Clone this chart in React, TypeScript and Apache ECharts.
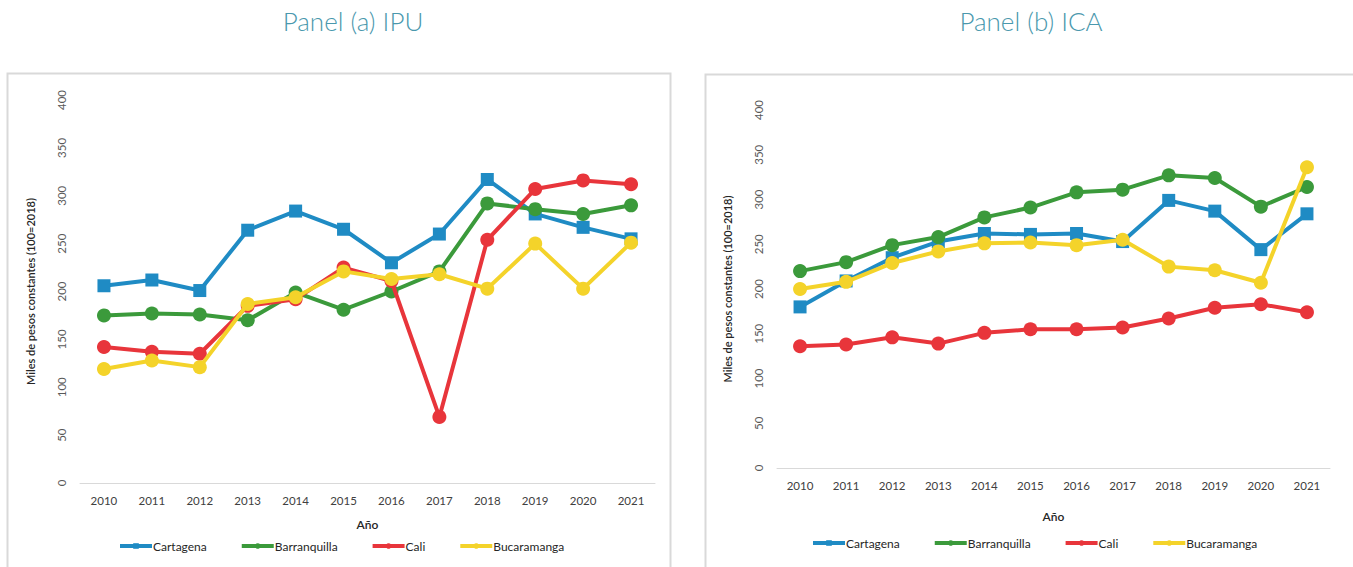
import React, { useEffect, useRef } from "react";
import * as echarts from "echarts";

const years = ["2010", "2011", "2012", "2013", "2014", "2015", "2016", "2017", "2018", "2019", "2020", "2021"];
const seriesNames = ["Cartagena", "Barranquilla", "Cali", "Bucaramanga"];
const colors = ["#1f8bc4", "#3b9a3b", "#e8353b", "#f4d32a"];
const symbols = ["rect", "circle", "circle", "circle"];

// Panel (a) IPU
const ipuCartagena = [206, 212, 201, 264, 284, 265, 230, 260, 317, 281, 267, 255];
const ipuBarranquilla = [175, 177, 176, 170, 199, 181, 200, 221, 292, 286, 281, 290];
const ipuCali = [142, 137, 135, 185, 192, 225, 211, 69, 254, 307, 316, 312];
const ipuBucaramanga = [119, 128, 121, 187, 194, 221, 213, 218, 203, 250, 203, 251];

// Panel (b) ICA
const icaCartagena = [180, 209, 235, 253, 262, 261, 262, 253, 299, 287, 244, 284];
const icaBarranquilla = [220, 230, 249, 258, 280, 291, 308, 311, 327, 324, 292, 314];
const icaCali = [136, 138, 146, 139, 151, 155, 155, 157, 167, 179, 183, 174];
const icaBucaramanga = [200, 208, 229, 242, 251, 252, 249, 255, 225, 221, 207, 336];

const yTicksMax = 400;
const yInterval = 50;

const FONT = "Lato, 'Open Sans', sans-serif";

export default function App() {
  const ref = useRef<HTMLDivElement>(null);
  useEffect(() => {
    if (!ref.current) return;
    const chart = echarts.init(ref.current, undefined, { renderer: "svg" });
    const panels = [
      [ipuCartagena, ipuBarranquilla, ipuCali, ipuBucaramanga],
      [icaCartagena, icaBarranquilla, icaCali, icaBucaramanga],
    ];
    const grids = [
      { left: 80, top: 100, width: 575, height: 383 },
      { left: 777, top: 110, width: 553, height: 358 },
    ];
    const series: any[] = [];
    panels.forEach((panel, pi) => {
      panel.forEach((data, si) => {
        series.push({
          name: seriesNames[si],
          type: "line",
          xAxisIndex: pi,
          yAxisIndex: pi,
          data,
          symbol: symbols[si],
          symbolSize: si === 0 ? 13 : 14,
          lineStyle: { width: 4, color: colors[si] },
          itemStyle: { color: colors[si] },
          z: 2 + si,
        });
      });
    });
    const xAxis = grids.map((_, i) => ({
      type: "category",
      gridIndex: i,
      data: years,
      boundaryGap: true,
      name: "Año",
      nameLocation: "middle",
      nameGap: i === 0 ? 35 : 42,
      nameTextStyle: { fontFamily: FONT, fontSize: 12, color: "#262626", fontWeight: 600 },
      axisLine: { lineStyle: { color: "#d9d9d9", width: 1 } },
      axisTick: { show: false },
      axisLabel: { fontFamily: FONT, fontSize: 11.5, color: "#404040", margin: 11 },
    }));
    const yAxis = grids.map((_, i) => ({
      type: "value",
      gridIndex: i,
      min: 0,
      max: yTicksMax,
      interval: yInterval,
      name: "Miles de pesos constantes (100=2018)",
      nameLocation: "middle",
      nameGap: 44,
      nameRotate: 90,
      nameTextStyle: { fontFamily: FONT, fontSize: 11, color: "#262626", fontWeight: 600 },
      splitLine: { show: false },
      axisLine: { show: false },
      axisTick: { show: false },
      axisLabel: { fontFamily: FONT, fontSize: 11.5, color: "#595959", rotate: 90, margin: 13 },
    }));
    const legends = [
      { left: 113, top: 535 },
      { left: 806, top: 532 },
    ].map((pos) => ({
      ...pos,
      data: seriesNames,
      itemWidth: 32,
      itemHeight: 7,
      itemGap: 33,
      lineStyle: { width: 4 },
      textStyle: { fontFamily: FONT, fontSize: 12, color: "#262626", padding: [0, 0, 0, -4] },
    }));
    chart.setOption({
      animation: false,
      backgroundColor: "#ffffff",
      title: [
        {
          text: "Panel (a) IPU",
          left: 348,
          top: 3,
          textAlign: "center",
          textStyle: { fontFamily: FONT, fontWeight: 300, fontSize: 26, color: "#4a98ad" },
        },
        {
          text: "Panel (b) ICA",
          left: 1026,
          top: 3,
          textAlign: "center",
          textStyle: { fontFamily: FONT, fontWeight: 300, fontSize: 26, color: "#4a98ad" },
        },
      ],
      graphic: [
        { type: "rect", shape: { x: 7.5, y: 73.5, width: 663, height: 520 }, style: { fill: "none", stroke: "#d9d9d9", lineWidth: 2 }, z: -1 },
        { type: "rect", shape: { x: 705.5, y: 74.5, width: 660, height: 520 }, style: { fill: "none", stroke: "#d9d9d9", lineWidth: 2 }, z: -1 },
      ],
      grid: grids,
      xAxis,
      yAxis,
      legend: legends,
      series,
    });
    return () => chart.dispose();
  }, []);
  return <div ref={ref} style={{ width: 1353, height: 567, position: "absolute", left: 0, top: 0 }} />;
}
